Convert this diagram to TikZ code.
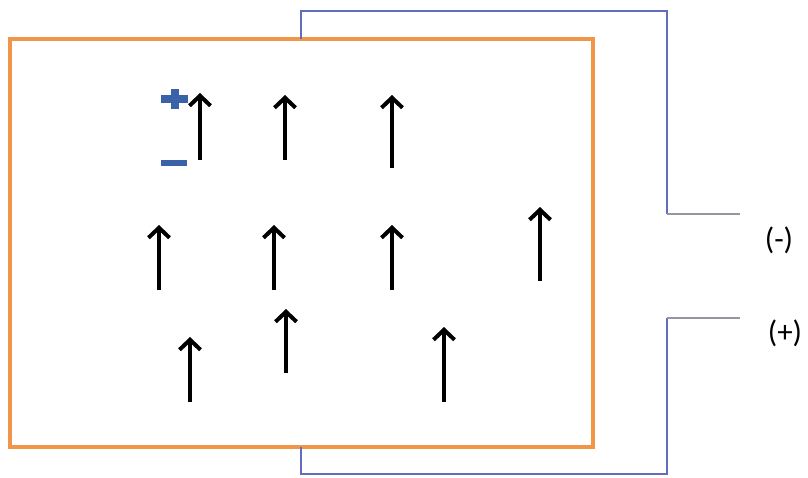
\documentclass[tikz,border=0pt]{standalone}
\usepackage{fontspec}
\setmainfont{Carlito}
\usepackage{tikz}
\usetikzlibrary{arrows.meta}
\definecolor{frameorange}{RGB}{240,150,72}
\definecolor{wireblue}{RGB}{98,108,188}
\definecolor{stubgray}{RGB}{150,150,160}
\definecolor{signblue}{RGB}{58,98,168}

\begin{document}
\begin{tikzpicture}[x=1pt, y=-1pt,
    spin/.style={line width=3.6pt, -{Straight Barb[length=10pt, width=21pt, line width=4pt]}},
    wire/.style={draw=wireblue, line width=1.5pt},
    stub/.style={draw=stubgray, line width=1.5pt},
    termlabel/.style={font=\fontsize{31}{36}\selectfont, inner sep=0pt}]
  \useasboundingbox (0,0) rectangle (808,477);

  % The sample
  \draw[frameorange, line width=3.1pt] (10,39) rectangle (593,447);

  % Wires to the terminals
  \coordinate (topin) at (301,39);
  \coordinate (botin) at (301,447);
  \coordinate (topbend) at (667,214);
  \coordinate (botbend) at (667,318);
  \coordinate (topend) at (740,214);
  \coordinate (botend) at (740,318);
  \draw[wire] (topin) |- (667,11) -- (topbend);
  \draw[wire] (botin) |- (667,474) -- (botbend);
  \draw[stub] (topbend) -- (topend);
  \draw[stub] (botbend) -- (botend);

  \node[termlabel] (minuslabel) at (779,240) {(-)};
  \node[termlabel] (pluslabel) at (785,333) {(+)};

  % Polarity of the first dipole
  \fill[signblue] (161,95) rectangle (188,103);
  \fill[signblue] (171,89) rectangle (179,109);
  \fill[signblue] (161,160) rectangle (187,166);

  % Dipoles: x, bottom, top
  \foreach \x/\ybot/\ytop in {200/160/93, 285/160/95, 392/168/95,
      159/290/225, 274/290/225, 392/290/225, 540/281/207,
      190/402/337, 286/373/309, 444/402/327}
    \draw[spin] (\x,\ybot) -- (\x,\ytop);
\end{tikzpicture}
\end{document}
